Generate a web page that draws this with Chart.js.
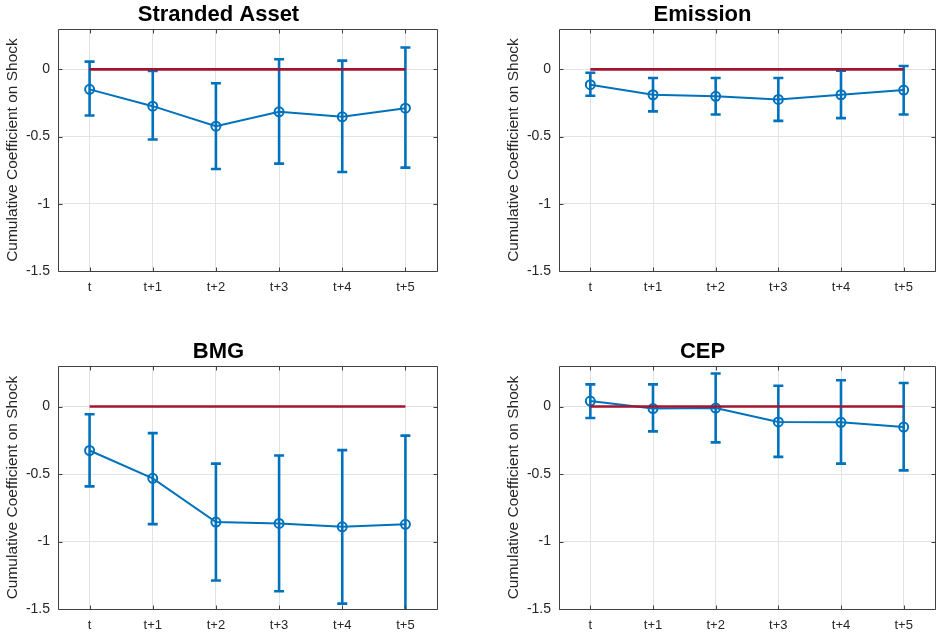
<!DOCTYPE html>
<html>
<head>
<meta charset="utf-8">
<script src="https://cdn.jsdelivr.net/npm/chart.js@4.4.1/dist/chart.umd.min.js"></script>
<style>
  html, body { margin:0; padding:0; background:#fff; overflow:hidden; }
  #wrap { position:relative; width:943px; height:633px; background:#fff; }
  canvas { position:absolute; }
</style>
</head>
<body>
<div id="wrap">
  <canvas id="c0" width="470" height="316" style="left:0;top:0"></canvas>
  <canvas id="c1" width="473" height="316" style="left:470px;top:0"></canvas>
  <canvas id="c2" width="470" height="296" style="left:0;top:337px"></canvas>
  <canvas id="c3" width="473" height="296" style="left:470px;top:337px"></canvas>
</div>
<script>
// ---- data ----
const categories = ['t', 't+1', 't+2', 't+3', 't+4', 't+5'];
const yTickValues = [-1.5, -1, -0.5, 0];
const yMin = -1.5;
const yMax = 0.3;
const zeroLine = [0, 0, 0, 0, 0, 0];

const panelTitles = ['Stranded Asset', 'Emission', 'BMG', 'CEP'];
const yAxisLabel = 'Cumulative Coefficient on Shock';

const strandedCoef  = [-0.149, -0.274, -0.423, -0.316, -0.353, -0.289];
const strandedUpper = [ 0.057, -0.012, -0.104,  0.075,  0.065,  0.162];
const strandedLower = [-0.343, -0.522, -0.741, -0.701, -0.764, -0.731];

const emissionCoef  = [-0.114, -0.189, -0.201, -0.224, -0.189, -0.154];
const emissionUpper = [-0.025, -0.065, -0.065, -0.065, -0.010,  0.025];
const emissionLower = [-0.197, -0.313, -0.336, -0.383, -0.363, -0.336];

const bmgCoef  = [-0.326, -0.532, -0.856, -0.866, -0.891, -0.873];
const bmgUpper = [-0.057, -0.197, -0.423, -0.363, -0.323, -0.216];
const bmgLower = [-0.592, -0.871, -1.289, -1.368, -1.460, -1.530];

const cepCoef  = [ 0.040, -0.015, -0.012, -0.114, -0.117, -0.152];
const cepUpper = [ 0.164,  0.164,  0.244,  0.154,  0.194,  0.174];
const cepLower = [-0.085, -0.184, -0.266, -0.373, -0.423, -0.473];

// ---- styling ----
const BLUE = '#0072bd';
const RED = '#a2142f';
const AXIS = '#262626';
const BOX = '#404040';
const GRID = '#e3e3e3';
const FONT = "'Liberation Sans', Arial, Helvetica, sans-serif";

const errorBarPlugin = {
  id: 'errorBars',
  afterDatasetDraw(chart, args) {
    const ds = chart.data.datasets[args.index];
    if (!ds.errLower) return;
    const { ctx, chartArea, scales: { x, y } } = chart;
    ctx.save();
    ctx.beginPath();
    ctx.rect(chartArea.left, chartArea.top, chartArea.right - chartArea.left, chartArea.bottom - chartArea.top);
    ctx.clip();
    ctx.strokeStyle = ds.borderColor;
    ctx.lineWidth = 2.6;
    ctx.lineCap = 'butt';
    const cap = 5;
    for (let i = 0; i < ds.data.length; i++) {
      const px = x.getPixelForValue(i);
      const yl = y.getPixelForValue(ds.errLower[i]);
      const yu = y.getPixelForValue(ds.errUpper[i]);
      ctx.beginPath();
      ctx.moveTo(px, yl); ctx.lineTo(px, yu);
      ctx.moveTo(px - cap, yl); ctx.lineTo(px + cap, yl);
      ctx.moveTo(px - cap, yu); ctx.lineTo(px + cap, yu);
      ctx.stroke();
    }
    ctx.restore();
  }
};

const boxPlugin = {
  id: 'matlabBox',
  afterDraw(chart) {
    const { ctx, chartArea: a, scales: { x, y } } = chart;
    ctx.save();
    ctx.strokeStyle = BOX;
    ctx.lineWidth = 1;
    const L = Math.round(a.left) + 0.5, R = Math.round(a.right) + 0.5;
    const T = Math.round(a.top) + 0.5, B = Math.round(a.bottom) + 0.5;
    ctx.beginPath();
    ctx.rect(L, T, R - L, B - T);
    const tl = 4;
    x.ticks.forEach((t, i) => {
      const px = Math.round(x.getPixelForTick(i)) + 0.5;
      ctx.moveTo(px, B); ctx.lineTo(px, B - tl);
      ctx.moveTo(px, T); ctx.lineTo(px, T + tl);
    });
    y.ticks.forEach((t) => {
      const py = Math.round(y.getPixelForValue(t.value)) + 0.5;
      ctx.moveTo(L, py); ctx.lineTo(L + tl, py);
      ctx.moveTo(R, py); ctx.lineTo(R - tl, py);
    });
    ctx.stroke();
    ctx.restore();
  }
};

function makePanel(id, title, coef, upper, lower, yAxisWidth, rightPad, xAxisHeight, yTitlePad) {
  return new Chart(document.getElementById(id), {
    type: 'line',
    data: {
      labels: categories,
      datasets: [
        {
          label: 'zero',
          data: zeroLine,
          borderColor: RED,
          borderWidth: 2.6,
          pointRadius: 0,
          order: 0,
          tension: 0
        },
        {
          label: title,
          data: coef,
          errUpper: upper,
          errLower: lower,
          borderColor: BLUE,
          borderWidth: 2,
          pointRadius: 4.5,
          pointBorderWidth: 2,
          pointBackgroundColor: 'rgba(0,0,0,0)',
          pointBorderColor: BLUE,
          order: 1,
          tension: 0
        }
      ]
    },
    options: {
      responsive: false,
      animation: false,
      devicePixelRatio: 1,
      layout: { padding: { left: 0, right: rightPad, top: 0, bottom: 0 } },
      plugins: {
        legend: { display: false },
        tooltip: { enabled: false },
        title: {
          display: true,
          text: title,
          color: '#000',
          font: { family: FONT, size: 22, weight: 'bold', lineHeight: 1.2 },
          padding: { top: 2, bottom: 0.6 }
        }
      },
      scales: {
        x: {
          type: 'category',
          offset: true,
          grid: { color: GRID, lineWidth: 1, drawTicks: false, offset: false },
          border: { display: false },
          ticks: { color: AXIS, font: { family: FONT, size: 13 }, padding: 9, maxRotation: 0 },
          afterFit(scale) { scale.height = xAxisHeight; }
        },
        y: {
          min: yMin,
          max: yMax,
          grid: { color: GRID, lineWidth: 1, drawTicks: false },
          border: { display: false },
          ticks: {
            color: AXIS,
            font: { family: FONT, size: 14 },
            padding: 8,
            callback: (v) => String(v)
          },
          afterBuildTicks(scale) { scale.ticks = yTickValues.map(v => ({ value: v })); },
          afterFit(scale) { scale.width = yAxisWidth; },
          title: {
            display: true,
            text: yAxisLabel,
            color: AXIS,
            font: { family: FONT, size: 15.5, lineHeight: 1.2 },
            padding: { top: yTitlePad, bottom: 0 }
          }
        }
      }
    },
    plugins: [errorBarPlugin, boxPlugin]
  });
}

makePanel('c0', panelTitles[0], strandedCoef, strandedUpper, strandedLower, 58, 33, 45, 3);
makePanel('c1', panelTitles[1], emissionCoef, emissionUpper, emissionLower, 89, 8, 45, 34);
makePanel('c2', panelTitles[2], bmgCoef, bmgUpper, bmgLower, 58, 33, 24, 3);
makePanel('c3', panelTitles[3], cepCoef, cepUpper, cepLower, 89, 8, 24, 34);
</script>
</body>
</html>
